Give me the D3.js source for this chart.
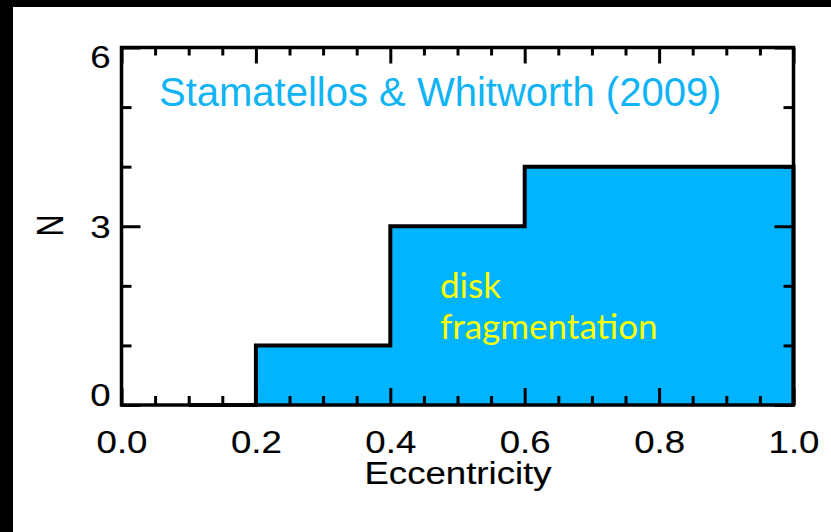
<!DOCTYPE html>
<html>
<head>
<meta charset="utf-8">
<script src="https://cdn.jsdelivr.net/npm/d3@7"></script>
<style>
  html, body { margin: 0; padding: 0; background: #000; }
  svg { display: block; }
</style>
</head>
<body>
<svg id="chart" width="831" height="532"></svg>
<script>
// Histogram of eccentricities: bin edges and counts per bin
const binEdges = [0.1, 0.2, 0.4, 0.6, 0.8, 1.0];
const counts = [0, 1, 3, 4, 4];

// Axis ticks
const xMajor = [0.0, 0.2, 0.4, 0.6, 0.8, 1.0];
const xMinor = [0.05, 0.1, 0.15, 0.25, 0.3, 0.35, 0.45, 0.5, 0.55, 0.65, 0.7, 0.75, 0.85, 0.9, 0.95];
const yMajor = [0, 3, 6];
const yMinor = [1, 2, 4, 5];

const xLabel = "Eccentricity";
const yLabel = "N";
const titleText = "Stamatellos & Whitworth (2009)";
const noteLines = ["disk", "fragmentation"];

const svg = d3.select("#chart");

// white panel on the black page
svg.append("rect").attr("x", 13).attr("y", 7).attr("width", 818).attr("height", 525).attr("fill", "#fff");

const plotL = 121.5, plotR = 793.5, plotT = 47.5, plotB = 405;
const x = d3.scaleLinear().domain([0, 1]).range([plotL, plotR]);
const y = d3.scaleLinear().domain([0, 6]).range([plotB, plotT]);

// step outline points
const pts = binEdges.map((e, i) => [e, i < counts.length ? counts[i] : counts[counts.length - 1]]);

const area = d3.area()
  .x(d => x(d[0])).y0(y(0)).y1(d => y(d[1]))
  .curve(d3.curveStepAfter);
svg.append("path").datum(pts).attr("d", area).attr("fill", "#00b4ff");

const line = d3.line().x(d => x(d[0])).y(d => y(d[1])).curve(d3.curveStepAfter);
svg.append("path").datum(pts.concat([[binEdges[binEdges.length - 1], 0]]))
  .attr("d", line).attr("fill", "none").attr("stroke", "#000")
  .attr("stroke-width", 4).attr("stroke-linejoin", "miter");

// axes with inward ticks
function styleAxis(g) {
  g.select(".domain").remove();
  g.selectAll(".tick line").attr("stroke", "#000").attr("stroke-width", 3);
}
const fontAxis = "'Liberation Sans', Arial, Helvetica, sans-serif";

svg.append("g").attr("transform", `translate(0,${plotB})`)
  .call(d3.axisBottom(x).tickValues(xMinor).tickSize(-9).tickFormat(""))
  .call(styleAxis);
const gxb = svg.append("g").attr("transform", `translate(0,${plotB})`)
  .call(d3.axisBottom(x).tickValues(xMajor).tickSize(-17).tickFormat(d3.format(".1f")))
  .call(styleAxis);
svg.append("g").attr("transform", `translate(0,${plotT})`)
  .call(d3.axisTop(x).tickValues(xMinor).tickSize(-8).tickFormat(""))
  .call(styleAxis);
svg.append("g").attr("transform", `translate(0,${plotT})`)
  .call(d3.axisTop(x).tickValues(xMajor).tickSize(-16).tickFormat(""))
  .call(styleAxis);

svg.append("g").attr("transform", `translate(${plotL},0)`)
  .call(d3.axisLeft(y).tickValues(yMinor).tickSize(-10).tickFormat(""))
  .call(styleAxis);
const gyl = svg.append("g").attr("transform", `translate(${plotL},0)`)
  .call(d3.axisLeft(y).tickValues(yMajor).tickSize(-19).tickFormat(d3.format("d")))
  .call(styleAxis);
svg.append("g").attr("transform", `translate(${plotR},0)`)
  .call(d3.axisRight(y).tickValues(yMinor).tickSize(-10).tickFormat(""))
  .call(styleAxis);
svg.append("g").attr("transform", `translate(${plotR},0)`)
  .call(d3.axisRight(y).tickValues(yMajor).tickSize(-19).tickFormat(""))
  .call(styleAxis);

// frame
svg.append("rect").attr("x", plotL).attr("y", plotT)
  .attr("width", plotR - plotL).attr("height", plotB - plotT)
  .attr("fill", "none").attr("stroke", "#000").attr("stroke-width", 3.5);

// widen axis text horizontally
function widen(sel, k) {
  sel.each(function () {
    const len = this.getComputedTextLength();
    d3.select(this).attr("textLength", len * k).attr("lengthAdjust", "spacingAndGlyphs");
  });
}

gxb.selectAll(".tick text")
  .attr("y", 47.5).attr("dy", null)
  .attr("fill", "#000").attr("stroke", "#000").attr("stroke-width", 0.15)
  .attr("font-family", fontAxis).attr("font-size", 30.5)
  .call(widen, 1.2);

// y labels kept inside the axis span
const capH = 21.7;
gyl.selectAll(".tick text")
  .attr("x", -11).attr("dy", null)
  .attr("y", d => {
    const cy = Math.max(Math.min(0, y(0) - y(d) - capH / 2), plotT - y(d) + capH / 2 - 2);
    return cy + capH / 2;
  })
  .attr("fill", "#000").attr("stroke", "#000").attr("stroke-width", 0.15)
  .attr("font-family", fontAxis).attr("font-size", 30.5)
  .call(widen, 1.2);

// axis titles
const xt = svg.append("text").attr("x", (plotL + plotR) / 2 + 0.5).attr("y", 483.5)
  .attr("text-anchor", "middle").attr("font-family", fontAxis).attr("font-size", 30.5)
  .attr("fill", "#000").attr("stroke", "#000").attr("stroke-width", 0.15).text(xLabel);
widen(xt, 1.2);

svg.append("text")
  .attr("transform", `translate(62.5,225.5) scale(1.2,1) rotate(-90)`)
  .attr("text-anchor", "middle").attr("font-family", fontAxis).attr("font-size", 30.5)
  .attr("fill", "#000").attr("stroke", "#000").attr("stroke-width", 0.15).text(yLabel);

// reference label
svg.append("text").attr("x", 159).attr("y", 106)
  .attr("font-family", fontAxis).attr("font-size", 40)
  .attr("fill", "#10b4f4").text(titleText);

// annotation
const note = svg.append("text").attr("font-family", "Lato, 'Open Sans', sans-serif")
  .attr("font-size", 35).attr("fill", "#ffff00");
note.append("tspan").attr("x", 440).attr("y", 298).text(noteLines[0]);
note.append("tspan").attr("x", 440).attr("y", 339).text(noteLines[1]);
</script>
</body>
</html>
